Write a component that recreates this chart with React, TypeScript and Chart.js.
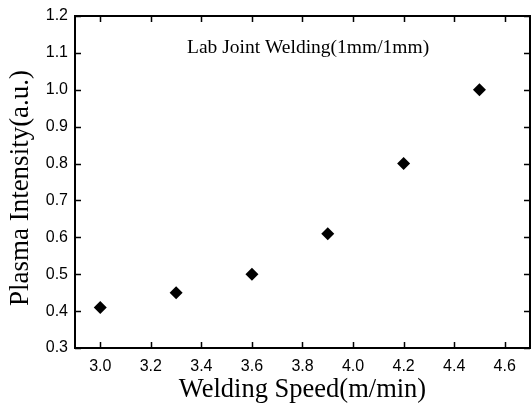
import React, { useEffect, useRef } from "react";
import { Chart, registerables } from "chart.js";

Chart.register(...registerables);

const speeds = [3.0, 3.3, 3.6, 3.9, 4.2, 4.5];
const intensity = [0.41, 0.45, 0.5, 0.61, 0.8, 1.0];
const xTicks = [3.0, 3.2, 3.4, 3.6, 3.8, 4.0, 4.2, 4.4, 4.6];
const yTicks = [0.3, 0.4, 0.5, 0.6, 0.7, 0.8, 0.9, 1.0, 1.1, 1.2];
const xTitle = "Welding Speed(m/min)";
const yTitle = "Plasma Intensity(a.u.)";
const note = "Lab Joint Welding(1mm/1mm)";

const framePlugin = {
  id: "frame",
  afterDraw(chart: any) {
    const { ctx, chartArea: a, scales } = chart;
    const x = scales.x;
    const y = scales.y;
    ctx.save();
    ctx.strokeStyle = "#000";
    ctx.lineWidth = 2;
    ctx.strokeRect(a.left, a.top, a.right - a.left, a.bottom - a.top);
    ctx.lineWidth = 1.5;
    const tl = 6;
    ctx.beginPath();
    xTicks.forEach((v) => {
      const px = Math.round(x.getPixelForValue(v)) + 0.5;
      ctx.moveTo(px, a.bottom);
      ctx.lineTo(px, a.bottom - tl);
      ctx.moveTo(px, a.top);
      ctx.lineTo(px, a.top + tl);
    });
    yTicks.forEach((v) => {
      const py = Math.round(y.getPixelForValue(v)) + 0.5;
      ctx.moveTo(a.left, py);
      ctx.lineTo(a.left + tl, py);
      ctx.moveTo(a.right, py);
      ctx.lineTo(a.right - tl, py);
    });
    ctx.stroke();
    ctx.fillStyle = "#000";
    ctx.textBaseline = "middle";
    ctx.textAlign = "left";
    ctx.font = "19.5px 'Liberation Serif'";
    ctx.fillText(note, 187, 48);
    ctx.textAlign = "center";
    ctx.font = "26.5px 'Liberation Serif'";
    ctx.fillText(xTitle, (a.left + a.right) / 2, 390);
    ctx.translate(21, 188);
    ctx.rotate(-Math.PI / 2);
    ctx.font = "27px 'Liberation Serif'";
    ctx.fillText(yTitle, 0, 0);
    ctx.restore();
  },
};

export default function App() {
  const ref = useRef<HTMLCanvasElement>(null);
  useEffect(() => {
    if (!ref.current) return;
    const chart = new Chart(ref.current, {
      type: "scatter",
      data: {
        datasets: [
          {
            data: speeds.map((s, i) => ({ x: s, y: intensity[i] })),
            pointStyle: "rectRot",
            pointRadius: 6.5,
            pointBackgroundColor: "#000",
            pointBorderColor: "#000",
            pointBorderWidth: 0,
          },
        ],
      },
      options: {
        animation: false,
        responsive: false,
        devicePixelRatio: 1,
        layout: { autoPadding: false, padding: { top: 16, right: 1, left: 0, bottom: 0 } },
        plugins: { legend: { display: false }, tooltip: { enabled: false } },
        scales: {
          x: {
            type: "linear",
            min: 2.9,
            max: 4.7,
            afterBuildTicks: (s: any) => {
              s.ticks = xTicks.map((v) => ({ value: v }));
            },
            afterFit: (s: any) => {
              s.height = 63;
              s.paddingLeft = 0;
              s.paddingRight = 0;
            },
            grid: { display: false, drawTicks: false },
            border: { display: false },
            ticks: {
              autoSkip: false,
              maxRotation: 0,
              padding: 9,
              color: "#000",
              font: { family: "'Liberation Sans'", size: 16 },
              callback: (v: any) => Number(v).toFixed(1),
            },
          },
          y: {
            type: "linear",
            min: 0.3,
            max: 1.2,
            afterBuildTicks: (s: any) => {
              s.ticks = yTicks.map((v) => ({ value: v }));
            },
            afterFit: (s: any) => {
              s.width = 75;
              s.paddingTop = 0;
              s.paddingBottom = 0;
            },
            grid: { display: false, drawTicks: false },
            border: { display: false },
            ticks: {
              autoSkip: false,
              padding: 7,
              color: "#000",
              font: { family: "'Liberation Sans'", size: 16 },
              callback: (v: any) => Number(v).toFixed(1),
            },
          },
        },
      },
      plugins: [framePlugin],
    });
    return () => chart.destroy();
  }, []);
  return (
    <div style={{ position: "fixed", left: 0, top: 0, width: 531, height: 411, background: "#fff" }}>
      <canvas ref={ref} width={531} height={411} style={{ display: "block" }} />
    </div>
  );
}
